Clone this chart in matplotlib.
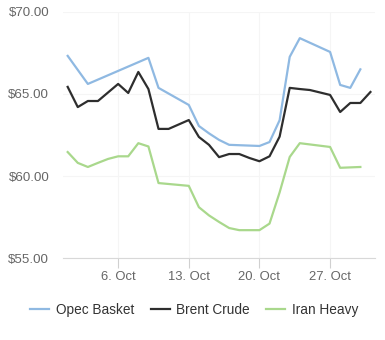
import matplotlib
matplotlib.use("Agg")
import matplotlib.pyplot as plt
from matplotlib.lines import Line2D

plt.rcParams['font.family'] = ['Liberation Sans', 'DejaVu Sans']

# day of October
opec_days = [1, 3, 9, 10, 13, 14, 15, 16, 17, 20, 21, 22, 23, 24, 27, 28, 29, 30]
opec_vals = [67.32, 65.61, 67.2, 65.37, 64.33, 63.05, 62.6, 62.2, 61.9, 61.83,
             62.07, 63.4, 67.26, 68.4, 67.56, 65.55, 65.37, 66.5]

brent_days = [1, 2, 3, 4, 6, 7, 8, 9, 10, 11, 13, 14, 15, 16, 17, 18, 19, 20,
              21, 22, 23, 24, 25, 27, 28, 29, 30, 31]
brent_vals = [65.43, 64.2, 64.57, 64.57, 65.61, 65.06, 66.34, 65.3, 62.87, 62.87,
              63.41, 62.38, 61.9, 61.15, 61.34, 61.34, 61.1, 60.9,
              61.2, 62.4, 65.37, 65.3, 65.24, 64.94, 63.9, 64.45, 64.45, 65.12]

iran_days = [1, 2, 3, 4, 5, 6, 7, 8, 9, 10, 13, 14, 15, 16, 17, 18, 20, 21, 22,
             23, 24, 27, 28, 30]
iran_vals = [61.46, 60.8, 60.55, 60.8, 61.04, 61.2, 61.2, 62.0, 61.8, 59.57,
             59.4, 58.1, 57.6, 57.2, 56.83, 56.7, 56.7, 57.1, 59.0,
             61.16, 62.0, 61.77, 60.5, 60.55]

y_ticks = [55, 60, 65, 70]
y_labels = ["$55.00", "$60.00", "$65.00", "$70.00"]
x_ticks = [6, 13, 20, 27]
x_labels = ["6. Oct", "13. Oct", "20. Oct", "27. Oct"]

series_names = ["Opec Basket", "Brent Crude", "Iran Heavy"]
colors = ["#8fb9e2", "#2e2e2e", "#a9d88c"]

fig = plt.figure(figsize=(3.85, 3.4), dpi=100)
ax = fig.add_axes([0.164, 0.241, 0.81, 0.724])

ax.plot(opec_days, opec_vals, color=colors[0], lw=1.6, solid_joinstyle='round')
ax.plot(brent_days, brent_vals, color=colors[1], lw=1.6, solid_joinstyle='round')
ax.plot(iran_days, iran_vals, color=colors[2], lw=1.6, solid_joinstyle='round')

ax.set_xlim(0.55, 31.45)
ax.set_ylim(55, 70)
ax.set_yticks(y_ticks)
ax.set_yticklabels(y_labels)
ax.set_xticks(x_ticks)
ax.set_xticklabels(x_labels)

for s in ['top', 'right', 'left']:
    ax.spines[s].set_visible(False)
ax.spines['bottom'].set_color('#d8d8d8')
ax.spines['bottom'].set_linewidth(0.8)

ax.grid(True, color='#f5f5f5', lw=0.8)
ax.set_axisbelow(True)

ax.tick_params(axis='y', length=0, pad=10, labelsize=9.6, labelcolor='#666666')
ax.tick_params(axis='x', length=7, width=0.8, color='#d0d0d0', pad=2,
               labelsize=9.4, labelcolor='#666666')

handles = [Line2D([0], [0], color=c, lw=1.6) for c in colors]
fig.legend(handles, series_names, loc='center', bbox_to_anchor=(0.505, 0.088),
           ncol=3, frameon=False, fontsize=9.8, labelcolor='#333333',
           handlelength=1.4, handletextpad=0.5, columnspacing=1.2)

fig.savefig("out.png", dpi=100)
